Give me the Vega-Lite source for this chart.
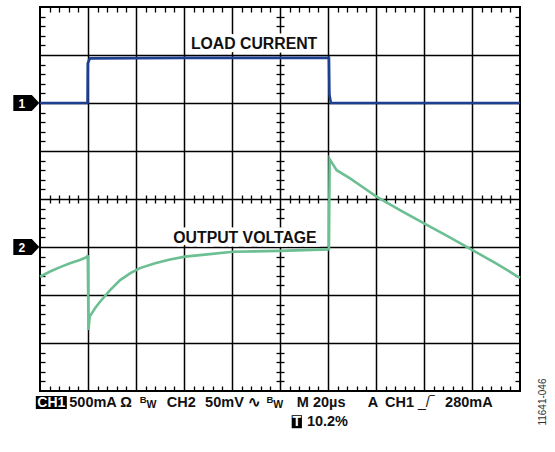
{
  "$schema": "https://vega.github.io/schema/vega-lite/v6.json",
  "width": 480,
  "height": 384,
  "autosize": {"type": "none"},
  "padding": {"left": 40, "top": 7, "right": 35, "bottom": 61},
  "background": "white",
  "config": {
    "view": {"stroke": "black", "strokeWidth": 2},
    "axis": {"labels": false, "title": null, "domain": false, "ticks": false, "grid": false, "zindex": 0, "tickColor": "black", "tickWidth": 1.3, "gridColor": "black", "gridWidth": 1.5, "gridOpacity": 1},
    "text": {"font": "Liberation Sans"}
  },
  "datasets": {
    "current": [
      {"t": 0, "v": 6.0}, {"t": 0.99, "v": 6.0}, {"t": 0.995, "v": 6.83}, {"t": 1.04, "v": 6.93},
      {"t": 3.0, "v": 6.94}, {"t": 6.02, "v": 6.94}, {"t": 6.03, "v": 6.17}, {"t": 6.06, "v": 6.0}, {"t": 10, "v": 6.0}
    ],
    "voltage": [
      {"t": 0, "v": 2.38}, {"t": 0.21, "v": 2.49}, {"t": 0.42, "v": 2.58}, {"t": 0.625, "v": 2.66},
      {"t": 0.83, "v": 2.73}, {"t": 0.98, "v": 2.79}, {"t": 0.995, "v": 2.83}, {"t": 1.01, "v": 1.27},
      {"t": 1.035, "v": 1.55}, {"t": 1.15, "v": 1.73}, {"t": 1.25, "v": 1.86}, {"t": 1.46, "v": 2.10},
      {"t": 1.67, "v": 2.31}, {"t": 1.875, "v": 2.45}, {"t": 2.08, "v": 2.56}, {"t": 2.40, "v": 2.66},
      {"t": 2.71, "v": 2.74}, {"t": 3.02, "v": 2.80}, {"t": 3.33, "v": 2.83}, {"t": 4.02, "v": 2.90},
      {"t": 5.0, "v": 2.92}, {"t": 6.0, "v": 2.95}, {"t": 6.02, "v": 2.96}, {"t": 6.035, "v": 4.83},
      {"t": 6.11, "v": 4.71}, {"t": 6.18, "v": 4.60}, {"t": 6.46, "v": 4.43}, {"t": 6.75, "v": 4.23},
      {"t": 7.01, "v": 4.05}, {"t": 7.5, "v": 3.77}, {"t": 8.0, "v": 3.49}, {"t": 8.5, "v": 3.22},
      {"t": 9.0, "v": 2.94}, {"t": 9.5, "v": 2.66}, {"t": 9.96, "v": 2.38}, {"t": 10, "v": 2.36}
    ],
    "labels": [
      {"text": "LOAD CURRENT", "x": 4.46, "y": 7.23},
      {"text": "OUTPUT VOLTAGE", "x": 4.27, "y": 3.19}
    ],
    "markers": [
      {"ch": "1", "y": 6.0},
      {"ch": "2", "y": 3.0}
    ],
    "boxes": [
      {"t": "CH1", "x": 0.236, "y": -0.24},
      {"t": "T", "x": 5.35, "y": -0.64}
    ],
    "footer": [
      {"t": "500mA Ω", "x": 0.61, "y": -0.24},
      {"t": "CH2", "x": 2.64, "y": -0.24},
      {"t": "50mV ∿", "x": 3.44, "y": -0.24},
      {"t": "M 20µs", "x": 5.35, "y": -0.24},
      {"t": "A", "x": 6.83, "y": -0.24},
      {"t": "CH1", "x": 7.19, "y": -0.24},
      {"t": "280mA", "x": 8.44, "y": -0.24},
      {"t": "10.2%", "x": 5.56, "y": -0.64}
    ],
    "sup": [
      {"t": "B", "x": 2.08, "y": -0.24},
      {"t": "B", "x": 4.72, "y": -0.24}
    ],
    "sub": [
      {"t": "W", "x": 2.22, "y": -0.24},
      {"t": "W", "x": 4.86, "y": -0.24}
    ],
    "edge": [
      {"t": "_/‾", "x": 7.875, "y": -0.24}
    ],
    "figid": [
      {"t": "11641-046", "x": 10.48, "y": -0.23}
    ]
  },
  "resolve": {"axis": {"x": "independent", "y": "independent"}},
  "layer": [
    {
      "data": {"name": "current"},
      "mark": {"type": "line", "color": "#1d3f8f", "strokeWidth": 2.6, "interpolate": "linear"},
      "encoding": {
        "x": {"field": "t", "type": "quantitative", "scale": {"domain": [0, 10], "nice": false, "zero": false},
              "axis": {"orient": "bottom", "grid": true, "values": [1, 2, 3, 4, 5, 6, 7, 8, 9]}},
        "y": {"field": "v", "type": "quantitative", "scale": {"domain": [0, 8], "nice": false, "zero": false},
              "axis": {"orient": "left", "grid": true, "values": [1, 2, 3, 4, 5, 6, 7]}}
      }
    },
    {
      "data": {"name": "voltage"},
      "mark": {"type": "line", "color": "#6cbf93", "strokeWidth": 2.6, "interpolate": "linear"},
      "encoding": {
        "x": {"field": "t", "type": "quantitative",
              "axis": {"orient": "bottom", "ticks": true, "tickSize": -5,
                       "values": [0.2,0.4,0.6,0.8,1.2,1.4,1.6,1.8,2.2,2.4,2.6,2.8,3.2,3.4,3.6,3.8,4.2,4.4,4.6,4.8,5.2,5.4,5.6,5.8,6.2,6.4,6.6,6.8,7.2,7.4,7.6,7.8,8.2,8.4,8.6,8.8,9.2,9.4,9.6,9.8]}},
        "y": {"field": "v", "type": "quantitative",
              "axis": {"orient": "left", "ticks": true, "tickSize": -5,
                       "values": [0.2,0.4,0.6,0.8,1.2,1.4,1.6,1.8,2.2,2.4,2.6,2.8,3.2,3.4,3.6,3.8,4.2,4.4,4.6,4.8,5.2,5.4,5.6,5.8,6.2,6.4,6.6,6.8,7.2,7.4,7.6,7.8]}}
      }
    },
    {
      "data": {"name": "labels"},
      "mark": {"type": "text", "fontSize": 15.8, "fontWeight": "bold", "color": "white", "stroke": "white", "strokeWidth": 7, "align": "center", "baseline": "middle"},
      "encoding": {
        "x": {"field": "x", "type": "quantitative",
              "axis": {"orient": "top", "ticks": true, "tickSize": -5,
                       "values": [0.2,0.4,0.6,0.8,1.2,1.4,1.6,1.8,2.2,2.4,2.6,2.8,3.2,3.4,3.6,3.8,4.2,4.4,4.6,4.8,5.2,5.4,5.6,5.8,6.2,6.4,6.6,6.8,7.2,7.4,7.6,7.8,8.2,8.4,8.6,8.8,9.2,9.4,9.6,9.8]}},
        "y": {"field": "y", "type": "quantitative",
              "axis": {"orient": "right", "ticks": true, "tickSize": -5,
                       "values": [0.2,0.4,0.6,0.8,1.2,1.4,1.6,1.8,2.2,2.4,2.6,2.8,3.2,3.4,3.6,3.8,4.2,4.4,4.6,4.8,5.2,5.4,5.6,5.8,6.2,6.4,6.6,6.8,7.2,7.4,7.6,7.8]}},
        "text": {"field": "text"}
      }
    },
    {
      "data": {"name": "labels"},
      "mark": {"type": "text", "fontSize": 15.8, "fontWeight": "bold", "color": "#111", "align": "center", "baseline": "middle"},
      "encoding": {
        "x": {"field": "x", "type": "quantitative",
              "axis": {"orient": "bottom", "offset": -192, "ticks": true, "tickSize": 4,
                       "values": [0.2,0.4,0.6,0.8,1.2,1.4,1.6,1.8,2.2,2.4,2.6,2.8,3.2,3.4,3.6,3.8,4.2,4.4,4.6,4.8,5.2,5.4,5.6,5.8,6.2,6.4,6.6,6.8,7.2,7.4,7.6,7.8,8.2,8.4,8.6,8.8,9.2,9.4,9.6,9.8]}},
        "y": {"field": "y", "type": "quantitative",
              "axis": {"orient": "left", "offset": -240, "ticks": true, "tickSize": 4,
                       "values": [0.2,0.4,0.6,0.8,1.2,1.4,1.6,1.8,2.2,2.4,2.6,2.8,3.2,3.4,3.6,3.8,4.2,4.4,4.6,4.8,5.2,5.4,5.6,5.8,6.2,6.4,6.6,6.8,7.2,7.4,7.6,7.8]}},
        "text": {"field": "text"}
      }
    },
    {
      "data": {"name": "footer"},
      "mark": {"type": "text", "fontSize": 14.5, "fontWeight": "bold", "color": "#111", "align": "left", "baseline": "middle"},
      "encoding": {
        "x": {"field": "x", "type": "quantitative",
              "axis": {"orient": "bottom", "offset": -192, "ticks": true, "tickSize": -4,
                       "values": [0.2,0.4,0.6,0.8,1.2,1.4,1.6,1.8,2.2,2.4,2.6,2.8,3.2,3.4,3.6,3.8,4.2,4.4,4.6,4.8,5.2,5.4,5.6,5.8,6.2,6.4,6.6,6.8,7.2,7.4,7.6,7.8,8.2,8.4,8.6,8.8,9.2,9.4,9.6,9.8]}},
        "y": {"field": "y", "type": "quantitative",
              "axis": {"orient": "left", "offset": -240, "ticks": true, "tickSize": -4,
                       "values": [0.2,0.4,0.6,0.8,1.2,1.4,1.6,1.8,2.2,2.4,2.6,2.8,3.2,3.4,3.6,3.8,4.2,4.4,4.6,4.8,5.2,5.4,5.6,5.8,6.2,6.4,6.6,6.8,7.2,7.4,7.6,7.8]}},
        "text": {"field": "t"}
      }
    },
    {
      "data": {"name": "sup"},
      "mark": {"type": "text", "fontSize": 9.5, "fontWeight": "bold", "color": "#111", "align": "left", "baseline": "middle", "dy": -3},
      "encoding": {
        "x": {"field": "x", "type": "quantitative", "axis": null},
        "y": {"field": "y", "type": "quantitative", "axis": null},
        "text": {"field": "t"}
      }
    },
    {
      "data": {"name": "sub"},
      "mark": {"type": "text", "fontSize": 10.5, "fontWeight": "bold", "color": "#111", "align": "left", "baseline": "middle", "dy": 2},
      "encoding": {
        "x": {"field": "x", "type": "quantitative", "axis": null},
        "y": {"field": "y", "type": "quantitative", "axis": null},
        "text": {"field": "t"}
      }
    },
    {
      "data": {"name": "edge"},
      "mark": {"type": "text", "fontSize": 14, "color": "#111", "align": "left", "baseline": "middle"},
      "encoding": {
        "x": {"field": "x", "type": "quantitative", "axis": null},
        "y": {"field": "y", "type": "quantitative", "axis": null},
        "text": {"field": "t"}
      }
    },
    {
      "data": {"name": "boxes"},
      "mark": {"type": "point", "filled": true, "color": "black", "opacity": 1, "size": 961},
      "encoding": {
        "x": {"field": "x", "type": "quantitative", "axis": null},
        "y": {"field": "y", "type": "quantitative", "axis": null},
        "shape": {"field": "t", "type": "nominal", "legend": null,
                  "scale": {"domain": ["CH1", "T"], "range": ["M-1,-0.42L1,-0.42L1,0.42L-1,0.42Z", "M-0.33,-0.42L0.33,-0.42L0.33,0.42L-0.33,0.42Z"]}}
      }
    },
    {
      "data": {"name": "boxes"},
      "mark": {"type": "text", "fontSize": 14, "fontWeight": "bold", "color": "white", "align": "center", "baseline": "middle", "dy": 0.5},
      "encoding": {
        "x": {"field": "x", "type": "quantitative", "axis": null},
        "y": {"field": "y", "type": "quantitative", "axis": null},
        "text": {"field": "t"}
      }
    },
    {
      "data": {"name": "markers"},
      "mark": {"type": "point", "filled": true, "color": "black", "opacity": 1, "size": 676,
               "shape": "M-1,-0.615L0.42,-0.615L1,0L0.42,0.615L-1,0.615Z"},
      "encoding": {
        "x": {"datum": -0.285, "type": "quantitative", "axis": null},
        "y": {"field": "y", "type": "quantitative", "axis": null}
      }
    },
    {
      "data": {"name": "markers"},
      "mark": {"type": "text", "fontSize": 12, "fontWeight": "bold", "color": "white", "align": "center", "baseline": "middle", "dx": -4.6, "dy": 0.5},
      "encoding": {
        "x": {"datum": -0.285, "type": "quantitative", "axis": null},
        "y": {"field": "y", "type": "quantitative", "axis": null},
        "text": {"field": "ch"}
      }
    },
    {
      "data": {"name": "figid"},
      "mark": {"type": "text", "fontSize": 10, "color": "#333", "align": "center", "baseline": "middle", "angle": 270},
      "encoding": {
        "x": {"field": "x", "type": "quantitative", "axis": null},
        "y": {"field": "y", "type": "quantitative", "axis": null},
        "text": {"field": "t"}
      }
    }
  ]
}
